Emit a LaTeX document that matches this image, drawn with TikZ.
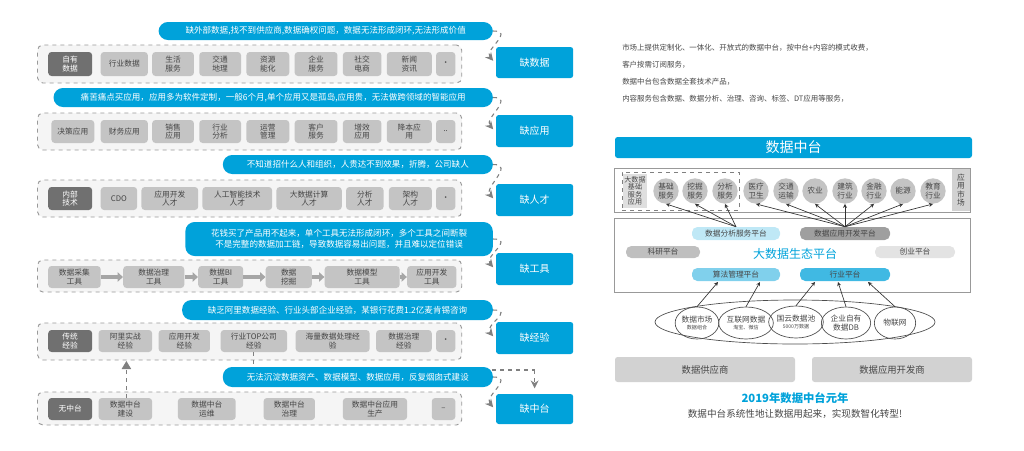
\documentclass[tikz,border=0pt]{standalone}
\usepackage{fontspec}
\setmainfont{Noto Sans CJK SC}
\usetikzlibrary{arrows.meta,shapes.geometric}
\definecolor{cb}{RGB}{0,162,218}
\definecolor{itg}{RGB}{196,196,196}
\definecolor{dkg}{RGB}{112,112,112}
\definecolor{txg}{RGB}{70,70,70}
\def\fx{1.0714}
\newcommand\bx[7][]{\node[#1,minimum width={0.75pt*(#4-#3)*\fx},minimum height={0.75pt*(#6-#5)}] (#2) at ({((#3+#4)/2-30)*\fx+30},{(#5+#6)/2}) {#7};}
\tikzset{
 base/.style={inner sep=0pt,align=center,font=\fontsize{5.8pt}{6.2pt}\selectfont,text=txg},
 itm/.style={base,fill=itg,rounded corners=2.5pt},
 dk/.style={base,fill=dkg,rounded corners=2.5pt,text=white},
 bub/.style={base,fill=cb,rounded corners=7pt,text=white,font=\fontsize{6.4pt}{7.8pt}\selectfont},
 frm/.style={base,draw=gray!80,dashed,line width=0.7pt,fill=gray!8,rounded corners=4pt},
 qbox/.style={base,fill=cb,rounded corners=2pt,text=white,font=\fontsize{7.5pt}{8pt}\selectfont},
 da/.style={draw=gray,dashed,line width=0.8pt,-{Stealth[length=6pt,width=6pt]}},
 fat/.style={draw=gray!70,line width=2.5pt,-{Triangle[length=4pt,width=7pt]}},
 cir/.style={base,circle,fill=itg,minimum size=19pt},
 pill/.style={base,rounded corners=4pt,font=\fontsize{5.8pt}{6pt}\selectfont},
 thin/.style={draw=black!80,line width=0.5pt,-{Stealth[length=3pt,width=3pt]}},
 rtx/.style={base,anchor=west,font=\fontsize{5.6pt}{6pt}\selectfont,text=txg},
}
\begin{document}
\begin{tikzpicture}[x=0.75pt,y=-0.75pt]
\useasboundingbox (0,0) rectangle (1024,450);
% row 1
\bx[frm]{f1}{37}{433}{45}{83}{}
\bx[bub]{b1}{150}{462}{22}{40}{缺外部数据,找不到供应商,数据确权问题，数据无法形成闭环,无法形成价值}
\bx[dk]{a11}{47}{88}{52}{76}{自有\\数据}
\bx[itm]{a12}{96}{140}{52}{76}{行业数据}
\bx[itm]{a13}{144}{183}{52}{76}{生活\\服务}
\bx[itm]{a14}{188}{227}{52}{76}{交通\\地理}
\bx[itm]{a15}{232}{272}{52}{76}{资源\\能化}
\bx[itm]{a16}{277}{317}{52}{76}{企业\\服务}
\bx[itm]{a17}{322}{358}{52}{76}{社交\\电商}
\bx[itm]{a18}{363}{405}{52}{76}{新闻\\资讯}
\bx[itm]{a19}{409}{427}{52}{76}{·}
\bx[qbox]{q1}{465}{537}{47}{78}{缺数据}
% row 2
\bx[frm]{f2}{37}{433}{113}{150}{}
\bx[bub]{b2}{52}{462}{88}{107}{痛苦痛点买应用，应用多为软件定制，一般6个月,单个应用又是孤岛,应用贵，无法做跨领域的智能应用}
\bx[itm]{a21}{50}{90}{120}{143}{决策应用}
\bx[itm]{a22}{96}{140}{120}{143}{财务应用}
\bx[itm]{a23}{144}{183}{120}{143}{销售\\应用}
\bx[itm]{a24}{188}{227}{120}{143}{行业\\分析}
\bx[itm]{a25}{232}{272}{120}{143}{运营\\管理}
\bx[itm]{a26}{277}{317}{120}{143}{客户\\服务}
\bx[itm]{a27}{322}{358}{120}{143}{增效\\应用}
\bx[itm]{a28}{363}{405}{120}{143}{降本应\\用}
\bx[itm]{a29}{409}{427}{120}{143}{..}
\bx[qbox]{q2}{465}{537}{115}{147}{缺应用}
% row 3
\bx[frm]{f3}{37}{433}{180}{217}{}
\bx[bub]{b3}{210}{462}{155}{174}{不知道招什么人和组织，人贵达不到效果，折腾，公司缺人}
\bx[dk]{a31}{47}{88}{187}{210}{内部\\技术}
\bx[itm]{a32}{96}{130}{187}{210}{CDO}
\bx[itm]{a33}{134}{187}{187}{210}{应用开发\\人才}
\bx[itm]{a34}{191}{256}{187}{210}{人工智能技术\\人才}
\bx[itm]{a35}{260}{321}{187}{210}{大数据计算\\人才}
\bx[itm]{a36}{325}{360}{187}{210}{分析\\人才}
\bx[itm]{a37}{365}{405}{187}{210}{架构\\人才}
\bx[itm]{a38}{409}{427}{187}{210}{·}
\bx[qbox]{q3}{465}{537}{184}{216}{缺人才}
% row 4
\bx[frm]{f4}{37}{433}{260}{292}{}
\bx[bub]{b4}{175}{462}{222}{256}{花钱买了产品用不起来，单个工具无法形成闭环，多个工具之间断裂\\不是完整的数据加工链，导致数据容易出问题，并且难以定位错误}
\bx[itm]{a41}{47}{96}{266}{288}{数据采集\\工具}
\bx[itm]{a42}{117}{174}{266}{288}{数据治理\\工具}
\bx[itm]{a43}{187}{229}{266}{288}{数据BI\\工具}
\bx[itm]{a44}{250}{293}{266}{288}{数据\\挖掘}
\bx[itm]{a45}{305}{375}{266}{288}{数据模型\\工具}
\bx[itm]{a46}{382}{428}{266}{288}{应用开发\\工具}
\draw[fat] (a41) -- (a42); \draw[fat] (a42) -- (a43); \draw[fat] (a43) -- (a44);
\draw[fat] (a44) -- (a45); \draw[fat] (a45) -- (a46);
\bx[qbox]{q4}{465}{537}{253}{285}{缺工具}
% row 5
\bx[frm]{f5}{37}{433}{323}{360}{}
\bx[bub]{b5}{172}{462}{300}{320}{缺乏阿里数据经验、行业头部企业经验，某银行花费1.2亿麦肯锡咨询}
\bx[dk]{a51}{47}{88}{330}{352}{传统\\经验}
\bx[itm]{a52}{94}{144}{330}{352}{阿里实战\\经验}
\bx[itm]{a53}{150}{198}{330}{352}{应用开发\\经验}
\bx[itm]{a54}{208}{270}{330}{352}{行业TOP公司\\经验}
\bx[itm]{a55}{278}{347}{330}{352}{海量数据处理经\\验}
\bx[itm]{a56}{353}{405}{330}{352}{数据治理\\经验}
\bx[itm]{a57}{409}{427}{330}{352}{·}
\bx[qbox]{q5}{465}{537}{322}{354}{缺经验}
% row 6
\bx[frm]{f6}{37}{433}{392}{425}{}
\bx[qbox]{q6}{465}{537}{394}{424}{缺中台}
\coordinate (c1) at (a54.south |- 0,370);
\coordinate (c2) at (q6.north |- 0,370);
\draw[gray,dashed,line width=0.8pt] (a54.south) -- (c1) -- (c2);
\bx[bub]{b6}{210}{462}{367}{387}{无法沉淀数据资产、数据模型、数据应用，反复烟囱式建设}
\bx[dk]{a61}{47}{88}{398}{420}{无中台}
\bx[itm]{a62}{94}{144}{398}{420}{数据中台\\建设}
\bx[itm]{a63}{168}{222}{398}{420}{数据中台\\运维}
\bx[itm]{a64}{248}{296}{398}{420}{数据中台\\治理}
\bx[itm]{a65}{322}{382}{398}{420}{数据中台应用\\生产}
\bx[itm]{a66}{405}{427}{398}{420}{–}
\coordinate (u2) at (126.4,398); \coordinate (u3) at (126.4,361);
\draw[gray,dashed,line width=0.8pt,-{Triangle[length=6pt,width=7pt]}] (u2) -- (u3);
\draw[gray,dashed,line width=0.8pt,-{Stealth[length=6pt,width=6pt]}] (c2) -- ([yshift=4pt]q6.north);
% connectors bubble -> q
\foreach \i in {1,...,6}{\draw[da,shorten >=3pt] (b\i.east) .. controls +(22,0) and +(-12,-14) .. ([yshift=-1pt]q\i.west);}
% ---- right side
\def\fx{1}
\node[rtx] (t1) at (622,48) {市场上提供定制化、一体化、开放式的数据中台，按中台+内容的模式收费，};
\node[rtx] (t2) at (622,65) {客户按需订阅服务，};
\node[rtx] (t3) at (622,82) {数据中台包含数据全套技术产品，};
\node[rtx] (t4) at (622,99) {内容服务包含数据、数据分析、治理、咨询、标签、DT应用等服务，};
\bx[base,fill=cb,rounded corners=2pt,text=white,font=\fontsize{10.5pt}{11pt}\selectfont]{title}{615}{972}{137}{158}{数据中台}
\bx[base,draw=gray!80,line width=0.7pt]{mk}{614}{970}{168}{212}{}
\bx[base,fill=gray!35]{yy}{952}{970}{169}{211}{应\\用\\市\\场}
\bx[base,draw=gray,dashed,line width=0.6pt]{dbx}{622}{739}{172}{210}{}
\bx[base,fill=gray!25,font=\fontsize{5.3pt}{5.6pt}\selectfont]{dj}{623}{647}{174}{208}{大数据\\基础\\服务\\应用}
\foreach \n/\x/\t in {c1/666/基础\\服务, c2/695/挖掘\\服务, c3/725/分析\\服务, c4/756/医疗\\卫生, c5/786/交通\\运输, c6/815/农业, c7/845/建筑\\行业, c8/874/金融\\行业, c9/903/能源, c10/933/教育\\行业}
 {\node[cir] (\n) at (\x,191) {\t};}
\bx[base,draw=gray!80,line width=0.7pt]{eco}{614}{970}{218}{292}{}
\bx[pill,fill=cb!25]{p1}{692}{780}{227}{240}{数据分析服务平台}
\bx[pill,fill=gray!75]{p2}{800}{890}{227}{240}{数据应用开发平台}
\bx[pill,fill=gray!50]{p3}{626}{700}{246}{258}{科研平台}
\bx[pill,fill=gray!22]{p4}{875}{955}{246}{258}{创业平台}
\bx[pill,fill=cb!50]{p5}{692}{780}{268}{281}{算法管理平台}
\bx[pill,fill=cb!75]{p6}{800}{890}{268}{281}{行业平台}
\node[base,text=cb,font=\fontsize{9pt}{10pt}\selectfont] (ecot) at (795,254) {大数据生态平台};
\foreach \n in {c1,c2,c3} \draw[thin] (p1.north) -- (\n.south);
\foreach \n in {c4,c5,c6,c7,c8,c9,c10} \draw[thin] (p2.north) -- (\n.south);
\node[base,ellipse,draw=black!70,line width=0.5pt,minimum width=210pt,minimum height=33pt] (big) at (795,322) {};
\node[base,ellipse,draw=black!70,line width=0.5pt,minimum width=31pt,minimum height=24pt] (e1) at (697,323) {数据市场\\[-1pt]{\fontsize{3.8pt}{4pt}\selectfont 数据组合}};
\node[base,ellipse,draw=black!70,line width=0.5pt,minimum width=37pt,minimum height=24pt] (e2) at (746,323) {互联网数据\\[-1pt]{\fontsize{3.8pt}{4pt}\selectfont 淘宝、微信}};
\node[base,ellipse,draw=black!70,line width=0.5pt,minimum width=37pt,minimum height=24pt] (e3) at (796,322) {国云数据池\\[-1pt]{\fontsize{3.8pt}{4pt}\selectfont 5000万数据}};
\node[base,ellipse,draw=black!70,line width=0.5pt,minimum width=37pt,minimum height=24pt] (e4) at (846,323) {企业自有\\数据DB};
\node[base,ellipse,draw=black!70,line width=0.5pt,minimum width=31pt,minimum height=24pt] (e5) at (895,323) {物联网};
\coordinate (k1) at (718,282); \coordinate (k2) at (760,282); \coordinate (k3) at (815,282);
\coordinate (k4) at (838,282); \coordinate (k5) at (868,282);
\foreach \i in {1,...,5} \draw[thin] (e\i.north) -- (k\i);
\bx[base,fill=gray!35,rounded corners=2pt,font=\fontsize{7pt}{8pt}\selectfont]{s1}{615}{795}{357}{382}{数据供应商}
\bx[base,fill=gray!35,rounded corners=2pt,font=\fontsize{7pt}{8pt}\selectfont]{s2}{812}{972}{357}{382}{数据应用开发商}
\node[base,text=cb,font=\bfseries\fontsize{8.5pt}{9pt}\selectfont] (y19) at (795,398) {2019年数据中台元年};
\node[base,text=txg,font=\fontsize{7.2pt}{8pt}\selectfont] (sub) at (795,414) {数据中台系统性地让数据用起来，实现数智化转型!};
\end{tikzpicture}
\end{document}
